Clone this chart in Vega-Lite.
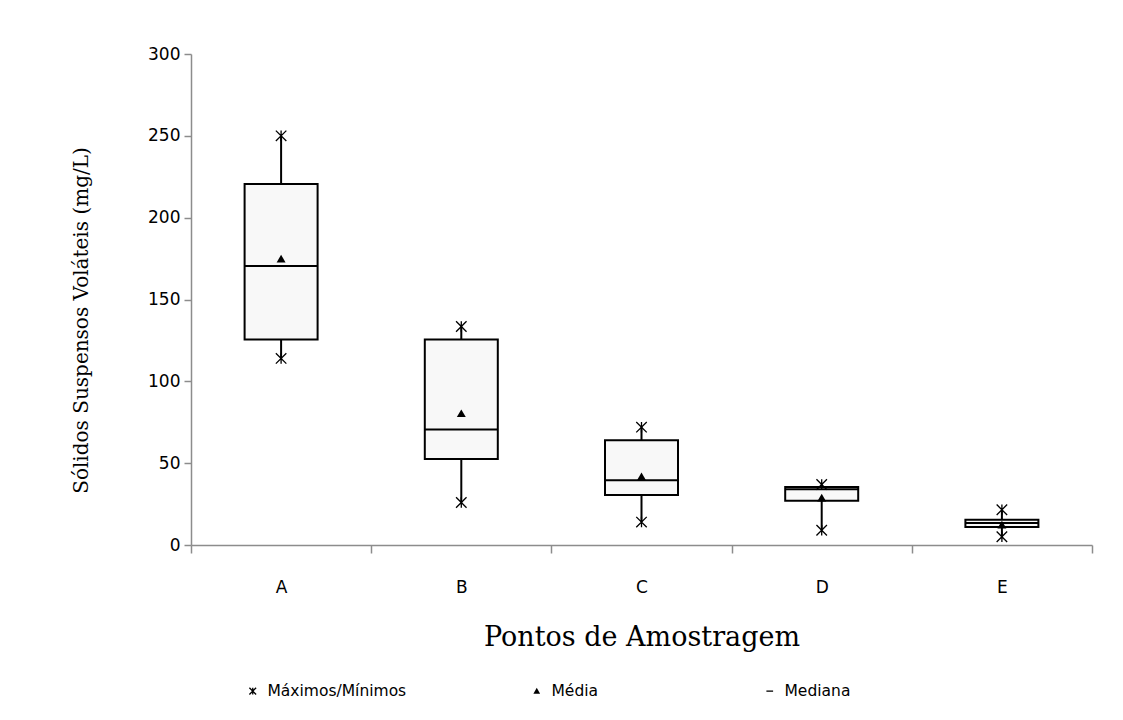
{
  "$schema": "https://vega.github.io/schema/vega-lite/v6.json",
  "width": 901,
  "height": 491,
  "autosize": {"type": "none"},
  "padding": {"left": 191, "top": 54, "right": 31, "bottom": 175},
  "background": "white",
  "config": {
    "view": {"stroke": null},
    "font": "DejaVu Sans",
    "axis": {
      "grid": false,
      "domainColor": "#8c8c8c",
      "domainWidth": 1.5,
      "tickColor": "#8c8c8c",
      "tickWidth": 1.5,
      "labelColor": "#000000",
      "labelFont": "DejaVu Sans",
      "labelFontSize": 17,
      "titleColor": "#000000",
      "titleFont": "DejaVu Serif",
      "titleFontWeight": "normal"
    },
    "legend": {
      "title": null,
      "orient": "none",
      "direction": "horizontal",
      "padding": 0,
      "symbolSize": 45,
      "symbolStrokeWidth": 1.3,
      "symbolOpacity": 1,
      "labelFont": "DejaVu Sans",
      "labelFontSize": 15.5,
      "labelColor": "black",
      "labelOffset": 7
    }
  },
  "data": {
    "values": [
      {"ponto": "A", "min": 114, "q1": 125.5, "mediana": 170.5, "media": 175, "q3": 220.5, "max": 250},
      {"ponto": "B", "min": 26, "q1": 52.5, "mediana": 70.5, "media": 80.5, "q3": 125.5, "max": 133.5},
      {"ponto": "C", "min": 14, "q1": 30.5, "mediana": 39.5, "media": 42, "q3": 64, "max": 72},
      {"ponto": "D", "min": 9, "q1": 27, "mediana": 34, "media": 29, "q3": 35.5, "max": 37},
      {"ponto": "E", "min": 5, "q1": 11, "mediana": 13.5, "media": 12.5, "q3": 15.5, "max": 21.5}
    ]
  },
  "encoding": {
    "x": {
      "field": "ponto",
      "type": "nominal",
      "scale": {"paddingInner": 0, "paddingOuter": 0},
      "axis": {
        "title": "Pontos de Amostragem",
        "labelAngle": 0,
        "tickBand": "extent",
        "tickSize": 8,
        "labelPadding": 26,
        "titleFontSize": 27,
        "titlePadding": 29
      }
    }
  },
  "resolve": {"scale": {"shape": "independent"}, "legend": {"shape": "independent"}},
  "layer": [
    {
      "mark": {"type": "rule", "color": "black", "strokeWidth": 2},
      "encoding": {
        "y": {
          "field": "min",
          "type": "quantitative",
          "title": "Sólidos Suspensos Voláteis (mg/L)",
          "scale": {"domain": [0, 300], "nice": false},
          "axis": {
            "values": [0, 50, 100, 150, 200, 250, 300],
            "tickSize": 7,
            "labelPadding": 4,
            "titleFontSize": 20,
            "titlePadding": 56,
            "titleY": 266
          }
        },
        "y2": {"field": "max"}
      }
    },
    {
      "mark": {"type": "bar", "size": 73, "fill": "#f8f8f8", "stroke": "black", "strokeWidth": 2},
      "encoding": {
        "y": {"field": "q1", "type": "quantitative", "title": "Sólidos Suspensos Voláteis (mg/L)"},
        "y2": {"field": "q3"}
      }
    },
    {
      "mark": {"type": "tick", "size": 73, "thickness": 2, "color": "black", "opacity": 1},
      "encoding": {
        "y": {"field": "mediana", "type": "quantitative", "title": "Sólidos Suspensos Voláteis (mg/L)"}
      }
    },
    {
      "mark": {"type": "point", "filled": false, "stroke": "black", "strokeWidth": 1.3, "size": 110, "opacity": 1},
      "encoding": {
        "y": {"field": "max", "type": "quantitative", "title": "Sólidos Suspensos Voláteis (mg/L)"},
        "shape": {
          "datum": "Máximos/Mínimos",
          "scale": {
            "domain": ["Máximos/Mínimos", "Mediana"],
            "range": ["M-1,-1L1,1M-1,1L1,-1M0,-1L0,1", "M-1,0L1,0"]
          },
          "legend": {
            "legendX": 54,
            "legendY": 629,
            "columnPadding": 355,
            "symbolStrokeColor": "black"
          }
        }
      }
    },
    {
      "mark": {"type": "point", "filled": false, "stroke": "black", "strokeWidth": 1.3, "size": 110, "opacity": 1},
      "encoding": {
        "y": {"field": "min", "type": "quantitative", "title": "Sólidos Suspensos Voláteis (mg/L)"},
        "shape": {
          "datum": "Máximos/Mínimos",
          "scale": {
            "domain": ["Máximos/Mínimos", "Mediana"],
            "range": ["M-1,-1L1,1M-1,1L1,-1M0,-1L0,1", "M-1,0L1,0"]
          },
          "legend": null
        }
      }
    },
    {
      "mark": {"type": "point", "filled": true, "color": "black", "size": 80, "opacity": 1},
      "encoding": {
        "y": {"field": "media", "type": "quantitative", "title": "Sólidos Suspensos Voláteis (mg/L)"},
        "shape": {
          "datum": "Média",
          "scale": {"domain": ["Média"], "range": ["triangle-up"]},
          "legend": {
            "legendX": 338,
            "legendY": 629,
            "symbolFillColor": "black"
          }
        }
      }
    }
  ]
}
